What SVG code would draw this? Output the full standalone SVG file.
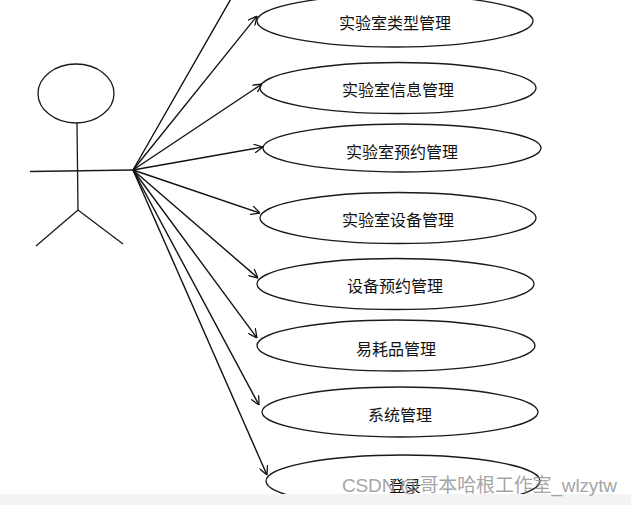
<svg xmlns="http://www.w3.org/2000/svg" width="631" height="505" viewBox="0 0 631 505">
<style>
.s{fill:none;stroke:#1a1a1a;stroke-width:1.3}
.e{fill:#fff;stroke:#1a1a1a;stroke-width:1.3}
.c{stroke:#111;stroke-width:1.4;fill:none}
.t{font-family:"Noto Sans CJK SC","Noto Sans",sans-serif;font-size:16px;fill:#111;text-anchor:middle}
.w{font-family:"Liberation Sans","Noto Sans CJK SC",sans-serif;font-size:19px;fill:#8c8c8c;fill-opacity:0.8}
</style>
<defs>
<marker id="a" viewBox="0 0 10 10" refX="10" refY="5" markerWidth="9" markerHeight="9" markerUnits="userSpaceOnUse" orient="auto">
<path d="M0,0 L10,5 L0,10" fill="none" stroke="#111" stroke-width="1.4"/>
</marker>
</defs>
<rect width="631" height="505" fill="#fff"/>
<g id="actor">
<ellipse class="s" cx="76" cy="93.5" rx="38" ry="29.5"/>
<line class="s" x1="77" y1="123" x2="78" y2="210"/>
<line class="s" x1="30" y1="171.5" x2="133" y2="170"/>
<line class="s" x1="78" y1="210" x2="36" y2="246"/>
<line class="s" x1="78" y1="210" x2="123" y2="244"/>
</g>
<g id="uc1"><ellipse class="e" cx="395" cy="21" rx="138" ry="26"/><text class="t" x="395" y="29">实验室类型管理</text></g>
<g id="uc2"><ellipse class="e" cx="398" cy="88" rx="138" ry="25.5"/><text class="t" x="398" y="96">实验室信息管理</text></g>
<g id="uc3"><ellipse class="e" cx="402" cy="148" rx="139" ry="24"/><text class="t" x="402" y="158">实验室预约管理</text></g>
<g id="uc4"><ellipse class="e" cx="398" cy="218" rx="138" ry="25.5"/><text class="t" x="398" y="226">实验室设备管理</text></g>
<g id="uc5"><ellipse class="e" cx="395.5" cy="284" rx="138.5" ry="25.5"/><text class="t" x="395" y="292">设备预约管理</text></g>
<g id="uc6"><ellipse class="e" cx="396" cy="345.5" rx="139" ry="25.5"/><text class="t" x="396" y="355">易耗品管理</text></g>
<g id="uc7"><ellipse class="e" cx="400" cy="412" rx="138" ry="25"/><text class="t" x="400" y="421">系统管理</text></g>
<g id="uc8"><ellipse class="e" cx="403" cy="481" rx="137" ry="26"/><text class="t" x="405" y="492">登录</text></g>
<g id="connectors">
<line class="c" x1="133" y1="170" x2="232" y2="-3"/>
<line class="c" x1="133" y1="170" x2="257" y2="16" marker-end="url(#a)"/>
<line class="c" x1="133" y1="170" x2="262" y2="84" marker-end="url(#a)"/>
<line class="c" x1="133" y1="170" x2="263" y2="147" marker-end="url(#a)"/>
<line class="c" x1="133" y1="170" x2="260" y2="213" marker-end="url(#a)"/>
<line class="c" x1="133" y1="170" x2="258" y2="278" marker-end="url(#a)"/>
<line class="c" x1="133" y1="170" x2="257" y2="338" marker-end="url(#a)"/>
<line class="c" x1="133" y1="170" x2="259" y2="405" marker-end="url(#a)"/>
<line class="c" x1="133" y1="170" x2="267" y2="475" marker-end="url(#a)"/>
</g>
<rect x="0" y="494" width="631" height="11" fill="#f3f3f3"/>
<text class="w" x="342" y="492" textLength="275">CSDN @哥本哈根工作室_wlzytw</text>
</svg>
